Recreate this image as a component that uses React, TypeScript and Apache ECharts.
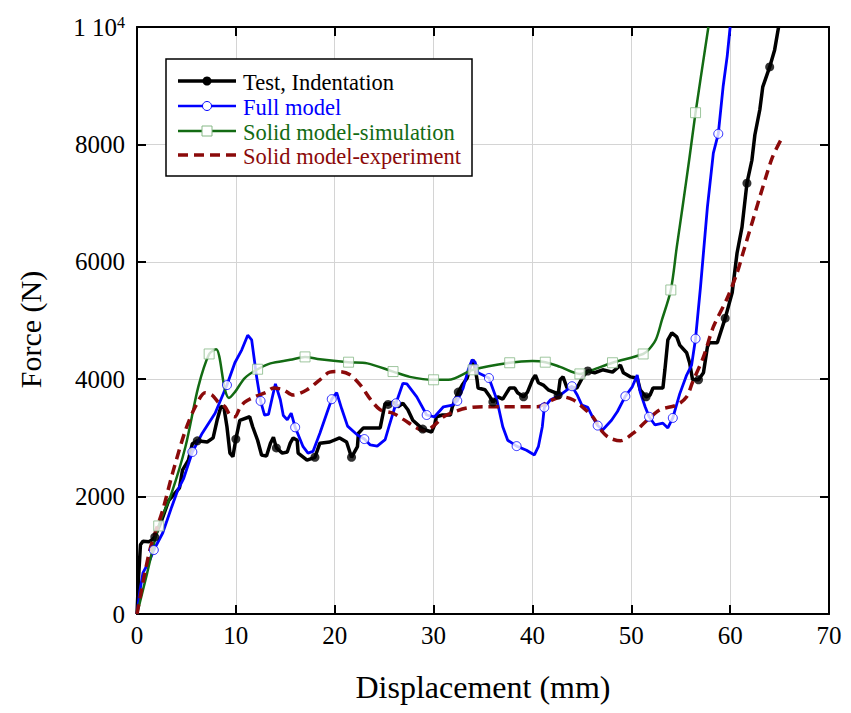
import React, { useEffect, useRef } from "react";
import * as echarts from "echarts";

const seriesNames = [
  "Test, Indentation",
  "Full model",
  "Solid model-simulation",
  "Solid model-experiment",
];

const xTickValues = [0, 10, 20, 30, 40, 50, 60, 70];
const yTickValues = [0, 2000, 4000, 6000, 8000, 10000];

const testData: number[][] = [
  [0, 0], [0.15, 600], [0.35, 1180], [0.6, 1240], [1.2, 1230], [1.5, 1260], [1.8, 1310],
  [2.5, 1600], [3.2, 1930], [4.3, 2150], [4.6, 2450], [5.2, 2620], [5.6, 2900], [6.1, 2950],
  [7.1, 2930], [7.7, 3000], [8.1, 3300], [8.5, 3540], [8.8, 3510], [9.1, 3190], [9.4, 2740],
  [9.7, 2680], [10.0, 2980], [10.4, 3300], [11.4, 3360], [11.7, 3190], [12.2, 2960], [12.6, 2710],
  [13.1, 2690], [13.5, 2910], [13.8, 3010], [14.1, 2830], [14.7, 2740], [15.2, 2760], [15.5, 2910],
  [15.8, 3000], [16.2, 2960], [16.3, 2740], [17.2, 2620], [18.0, 2670], [18.5, 2910], [19.5, 2930],
  [20.5, 3000], [21.2, 2930], [21.7, 2670], [22.3, 2850], [22.4, 3080], [22.9, 3170], [24.6, 3170],
  [25.1, 3590], [25.4, 3570], [25.9, 3610], [26.4, 3530], [26.9, 3590], [27.4, 3480], [27.9, 3300],
  [28.9, 3150], [29.8, 3100], [30.1, 3220], [30.3, 3360], [30.9, 3390], [31.7, 3390], [31.9, 3530],
  [32.2, 3650], [32.5, 3780], [32.9, 3900], [33.4, 4020], [33.7, 4210], [34.0, 4330], [34.2, 4190],
  [34.4, 3990], [34.5, 3850], [35.2, 3820], [35.7, 3700], [36.0, 3610], [36.5, 3700], [37.0, 3660],
  [37.7, 3850], [38.2, 3850], [38.5, 3770], [39.1, 3700], [39.5, 3780], [40.0, 3990], [40.3, 4070],
  [40.6, 3940], [41.1, 3900], [41.6, 3820], [42.3, 3770], [42.6, 3730], [42.8, 3990], [43.1, 4040],
  [43.5, 3850], [44.5, 3850], [45.1, 4040], [45.6, 4140], [46.3, 4110], [47.1, 4160], [48.1, 4120],
  [48.7, 4210], [48.9, 4240], [49.2, 4110], [49.9, 4040], [50.6, 4020], [50.9, 3820], [51.5, 3700],
  [51.9, 3730], [52.2, 3850], [53.2, 3850], [53.4, 4160], [53.7, 4670], [54.1, 4790], [54.6, 4720],
  [54.9, 4580], [55.6, 4450], [55.9, 4280], [56.2, 3990], [56.8, 3990], [57.3, 4110], [57.7, 4550],
  [57.9, 4620], [58.7, 4620], [59.5, 5040], [60.2, 5470], [60.7, 6150], [61.2, 6590], [61.7, 7340],
  [62.2, 7730], [62.5, 8160], [63.0, 8590], [63.3, 8980], [64.0, 9320], [64.5, 9610], [64.9, 10000],
];
const testMarkers: number[][] = [
  [1.8, 1310], [6.1, 2950], [10.0, 2980], [14.1, 2830], [18.0, 2670], [21.7, 2670], [25.4, 3570],
  [28.9, 3150], [32.5, 3780], [36.0, 3610], [39.1, 3700], [42.6, 3730], [45.6, 4140], [51.5, 3700],
  [56.8, 3990], [59.5, 5040], [61.7, 7340], [64.0, 9320],
];

const fullData: number[][] = [
  [0, 0], [0.3, 400], [0.6, 700], [1.3, 920], [1.7, 1090], [2.6, 1380], [3.5, 1820], [4.1, 2100],
  [4.7, 2300], [5.6, 2760], [6.6, 3080], [7.9, 3420], [9.1, 3900], [9.9, 4280], [10.6, 4500],
  [11.2, 4750], [11.6, 4670], [12.1, 4040], [12.5, 3630], [12.9, 3390], [13.3, 3400], [13.7, 3700],
  [14.0, 3920], [14.5, 3650], [14.8, 3380], [15.2, 3310], [15.6, 3420], [16.0, 3180], [16.8, 2850],
  [17.3, 2740], [17.8, 2770], [18.5, 3080], [19.2, 3420], [19.7, 3660], [20.2, 3770], [20.7, 3500],
  [21.3, 3200], [22.3, 3050], [23.0, 2980], [23.6, 2880], [24.3, 2860], [25.1, 2970], [25.5, 3200],
  [26.2, 3590], [26.9, 3930], [27.3, 3920], [28.3, 3700], [29.3, 3390], [30.1, 3360], [31.0, 3530],
  [31.9, 3560], [32.4, 3630], [33.0, 3850], [33.5, 4160], [33.9, 4330], [34.2, 4290], [34.5, 4110],
  [35.6, 4020], [36.4, 3650], [37.0, 3190], [37.5, 2960], [38.4, 2860], [39.4, 2790], [40.2, 2710],
  [40.6, 2850], [41.0, 3190], [41.2, 3520], [41.8, 3645], [42.8, 3730], [44.0, 3880], [44.5, 3740],
  [45.0, 3560], [45.6, 3520], [46.1, 3350], [46.6, 3210], [47.1, 3135], [48.0, 3300], [48.6, 3450],
  [49.4, 3710], [50.1, 3870], [50.6, 4070], [50.9, 3780], [51.4, 3530], [51.8, 3360], [52.4, 3220],
  [53.2, 3250], [53.7, 3170], [54.2, 3340], [54.9, 3750], [55.6, 4070], [56.1, 4240], [56.5, 4690],
  [57.0, 5570], [57.7, 6930], [58.3, 7850], [58.8, 8180], [59.3, 9000], [59.7, 9500],
  [60.0, 10000],
];
const fullMarkers: number[][] = [
  [1.7, 1090], [5.6, 2760], [9.1, 3900], [12.5, 3630], [16.0, 3180], [19.7, 3660], [23.0, 2980],
  [26.2, 3590], [29.3, 3390], [32.4, 3630], [35.6, 4020], [38.4, 2860], [41.2, 3520], [44.0, 3880],
  [46.6, 3210], [49.4, 3710], [51.8, 3360], [54.2, 3340], [56.5, 4690], [58.8, 8180],
];

const simData: number[][] = [
  [0, 0], [1.0, 680], [2.2, 1500], [3.5, 2060], [4.9, 2850], [6.2, 3870], [7.3, 4430], [8.0, 4510],
  [8.9, 3820], [9.3, 3680], [9.9, 3780], [10.9, 4020], [12.2, 4170], [13.5, 4270], [15.5, 4330],
  [17.0, 4380], [18.5, 4340], [21.4, 4290], [23.3, 4270], [25.9, 4130], [27.6, 4040], [30.0, 3990],
  [31.5, 3990], [34.0, 4160], [37.7, 4280], [40.0, 4310], [41.3, 4290], [42.8, 4210], [44.8, 4090],
  [46.1, 4160], [48.1, 4280], [51.2, 4430], [51.8, 4510], [52.5, 4680], [53.1, 5010], [54.0, 5520],
  [54.6, 6250], [55.2, 6950], [55.9, 7790], [56.5, 8540], [57.8, 10000],
];
const simMarkers: number[][] = [
  [2.2, 1500], [7.3, 4430], [12.2, 4170], [17.0, 4380], [21.4, 4290], [25.9, 4130], [30.0, 3990],
  [34.0, 4160], [37.7, 4280], [41.3, 4290], [44.8, 4090], [48.1, 4280], [51.2, 4430], [54.0, 5520],
  [56.5, 8540],
];

const expData: number[][] = [
  [0, 0], [1.3, 1090], [2.6, 1770], [3.6, 2400], [4.9, 3130], [5.9, 3530], [6.9, 3770], [7.6, 3730],
  [8.2, 3610], [8.9, 3530], [9.4, 3390], [9.9, 3360], [10.4, 3510], [10.9, 3610], [11.9, 3700],
  [13.1, 3780], [13.8, 3850], [14.8, 3820], [15.8, 3730], [17.2, 3820], [18.5, 3990], [19.5, 4120],
  [20.5, 4130], [21.5, 4080], [22.6, 3900], [23.6, 3660], [24.6, 3480], [25.9, 3420], [26.9, 3320],
  [28.3, 3170], [29.1, 3120], [29.9, 3190], [31.0, 3360], [32.0, 3440], [33.4, 3510], [35.0, 3530],
  [37.0, 3530], [38.7, 3530], [40.5, 3530], [41.8, 3630], [43.0, 3700], [44.1, 3650], [45.1, 3520],
  [46.1, 3360], [47.1, 3100], [47.8, 3000], [48.9, 2950], [50.2, 3080], [51.6, 3300], [52.9, 3480],
  [54.6, 3560], [55.6, 3700], [56.2, 3950], [57.3, 4380], [58.3, 4890], [59.7, 5380], [60.7, 5810],
  [61.3, 6150], [62.3, 6710], [63.3, 7270], [64.3, 7790], [65.3, 8130],
];

const FONT = "'Liberation Serif', 'Times New Roman', serif";
const BLACK = "#000000";
const BLUE = "#0000ff";
const GREEN = "#136b13";
const GREEN_MARK = "#86b886";
const RED = "#8b0a0a";

export default function App() {
  const ref = useRef<HTMLDivElement>(null);

  useEffect(() => {
    const chart = echarts.init(ref.current!, null, { renderer: "svg" });

    const frameAxis = {
      axisLine: { show: true, onZero: false, lineStyle: { color: "#000", width: 2 } },
      axisTick: { show: true, inside: true, length: 9, lineStyle: { color: "#000", width: 2 } },
    };

    const legendRows = [81, 106, 131, 155];
    const legendColors = [BLACK, BLUE, GREEN, RED];
    const legendGraphics: any[] = [
      {
        type: "rect",
        shape: { x: 166, y: 59, width: 306, height: 117 },
        style: { fill: "#fff", stroke: "#000", lineWidth: 1.5 },
        z: 100,
      },
    ];
    seriesNames.forEach((name, i) => {
      const y = legendRows[i];
      legendGraphics.push({
        type: "line",
        shape: { x1: 178, y1: y, x2: 236, y2: y },
        style: {
          stroke: legendColors[i],
          lineWidth: i === 0 || i === 3 ? 3.5 : 2.5,
          lineDash: i === 3 ? [10, 6] : null,
        },
        z: 101,
      });
      if (i === 0) {
        legendGraphics.push({ type: "circle", shape: { cx: 207, cy: y, r: 4.5 }, style: { fill: BLACK }, z: 102 });
      } else if (i === 1) {
        legendGraphics.push({ type: "circle", shape: { cx: 207, cy: y, r: 4.5 }, style: { fill: "#fff", stroke: BLUE, lineWidth: 1 }, z: 102 });
      } else if (i === 2) {
        legendGraphics.push({ type: "rect", shape: { x: 202, y: y - 5, width: 10, height: 10 }, style: { fill: "#fff", stroke: GREEN_MARK, lineWidth: 1 }, z: 102 });
      }
      legendGraphics.push({
        type: "text",
        x: 243,
        y: y + 1,
        style: {
          text: name,
          fill: legendColors[i],
          font: `22.5px ${FONT}`,
          verticalAlign: "middle",
          align: "left",
        },
        z: 102,
      });
    });

    const option: any = {
      animation: false,
      backgroundColor: "#fff",
      grid: { left: 137, right: 22, top: 27, bottom: 99 },
      xAxis: [
        {
          type: "value",
          min: xTickValues[0],
          max: xTickValues[xTickValues.length - 1],
          interval: 10,
          position: "bottom",
          name: "Displacement (mm)",
          nameLocation: "middle",
          nameGap: 57,
          nameTextStyle: { fontFamily: FONT, fontSize: 32, color: "#000" },
          ...frameAxis,
          axisLabel: { fontFamily: FONT, fontSize: 25, color: "#000", margin: 9 },
          splitLine: { show: true, lineStyle: { color: "#d4d4d4", width: 1 } },
        },
        {
          type: "value",
          min: xTickValues[0],
          max: xTickValues[xTickValues.length - 1],
          interval: 10,
          position: "top",
          ...frameAxis,
          axisLabel: { show: false },
          splitLine: { show: false },
        },
      ],
      yAxis: [
        {
          type: "value",
          min: yTickValues[0],
          max: yTickValues[yTickValues.length - 1],
          interval: 2000,
          position: "left",
          name: "Force (N)",
          nameLocation: "middle",
          nameGap: 92,
          nameTextStyle: { fontFamily: FONT, fontSize: 30, color: "#000", padding: [0, 18, 0, 0] },
          ...frameAxis,
          axisLabel: {
            fontFamily: FONT,
            fontSize: 25,
            color: "#000",
            margin: 12,
            formatter: (v: number) => (v === 10000 ? "{a|1 10}{s|4}" : String(v)),
            rich: {
              a: { fontFamily: FONT, fontSize: 25, color: "#000", lineHeight: 26 },
              s: { fontFamily: FONT, fontSize: 16, color: "#000", lineHeight: 26, verticalAlign: "top", padding: [0, 0, 10, 0] },
            },
          },
          splitLine: { show: true, lineStyle: { color: "#d4d4d4", width: 1 } },
        },
        {
          type: "value",
          min: yTickValues[0],
          max: yTickValues[yTickValues.length - 1],
          interval: 2000,
          position: "right",
          ...frameAxis,
          axisLabel: { show: false },
          splitLine: { show: false },
        },
      ],
      series: [
        {
          name: seriesNames[0], type: "line", data: testData, symbol: "none", z: 3,
          lineStyle: { color: BLACK, width: 3.5 },
        },
        {
          name: seriesNames[1], type: "line", data: fullData, symbol: "none", z: 3,
          lineStyle: { color: BLUE, width: 2.8 },
        },
        {
          name: seriesNames[2], type: "line", data: simData, symbol: "none", smooth: 0.3, z: 3,
          lineStyle: { color: GREEN, width: 2.5 },
        },
        {
          name: seriesNames[3], type: "line", data: expData, symbol: "none", smooth: 0.3, z: 3,
          lineStyle: { color: RED, width: 3.5, type: [10, 6] },
        },
        {
          name: seriesNames[0] + " markers", type: "scatter", data: testMarkers, symbol: "circle",
          symbolSize: 9, z: 5, itemStyle: { color: BLACK },
        },
        {
          name: seriesNames[1] + " markers", type: "scatter", data: fullMarkers, symbol: "circle",
          symbolSize: 9, z: 5, itemStyle: { color: "#fff", borderColor: BLUE, borderWidth: 1 },
        },
        {
          name: seriesNames[2] + " markers", type: "scatter", data: simMarkers, symbol: "rect",
          symbolSize: 10, z: 5, itemStyle: { color: "#fff", borderColor: GREEN_MARK, borderWidth: 1 },
        },
      ],
      graphic: legendGraphics,
    };

    chart.setOption(option);
    return () => chart.dispose();
  }, []);

  return (
    <div
      ref={ref}
      style={{ position: "fixed", left: 0, top: 0, width: 851, height: 713, background: "#fff" }}
    />
  );
}
